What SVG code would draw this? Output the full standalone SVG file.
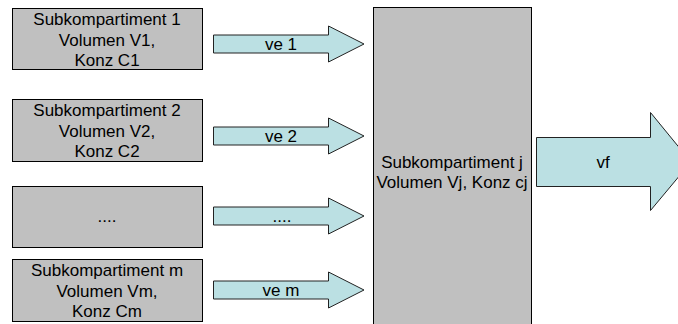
<svg xmlns="http://www.w3.org/2000/svg" width="678" height="324" viewBox="0 0 678 324">
  <style>
    .box { fill: #c0c0c0; stroke: #000; stroke-width: 1; }
    .flow { fill: #bbe0e3; stroke: #222; stroke-width: 1; stroke-linejoin: miter; }
    text { font-family: "Liberation Sans", Arial, sans-serif; font-size: 17px; fill: #000; text-anchor: middle; }
  </style>
  <defs>
    <!-- block arrow used for each inflow, drawn around its centre line y=0 -->
    <path id="inflow" d="M213.5,-9 H328.5 V-18 L364,0 L328.5,18 V9 H213.5 Z"/>
  </defs>

  <g id="sub1">
    <rect class="box" x="12.5" y="8.5" width="190" height="61"/>
    <text x="107" y="25">Subkompartiment 1</text>
    <text x="107" y="45.5">Volumen V1,</text>
    <text x="107" y="66">Konz C1</text>
  </g>

  <g id="sub2">
    <rect class="box" x="12.5" y="99.5" width="190" height="62"/>
    <text x="107" y="116">Subkompartiment 2</text>
    <text x="107" y="136.5">Volumen V2,</text>
    <text x="107" y="157">Konz C2</text>
  </g>

  <g id="sub-dots">
    <rect class="box" x="12.5" y="186.5" width="190" height="61"/>
    <text x="107" y="222">....</text>
  </g>

  <g id="subm">
    <rect class="box" x="12.5" y="259.5" width="190" height="62"/>
    <text x="107" y="276">Subkompartiment m</text>
    <text x="107" y="296.5">Volumen Vm,</text>
    <text x="107" y="317">Konz Cm</text>
  </g>

  <g id="subj">
    <rect class="box" x="373.5" y="7.5" width="158" height="330"/>
    <text x="452" y="168">Subkompartiment j</text>
    <text x="452" y="188">Volumen Vj, Konz cj</text>
  </g>

  <g id="connectors">
    <g id="ve1">
      <use href="#inflow" class="flow" transform="translate(0,44)"/>
      <text x="281" y="50">ve 1</text>
    </g>
    <g id="ve2">
      <use href="#inflow" class="flow" transform="translate(0,136)"/>
      <text x="281" y="142">ve 2</text>
    </g>
    <g id="ve-dots">
      <use href="#inflow" class="flow" transform="translate(0,216)"/>
      <text x="282" y="222">....</text>
    </g>
    <g id="vem">
      <use href="#inflow" class="flow" transform="translate(0,290)"/>
      <text x="281" y="296">ve m</text>
    </g>
    <g id="vf">
      <path class="flow" d="M536.5,137.5 H650.5 V112.5 L691,162 L650.5,210.5 V186.5 H536.5 Z"/>
      <text x="603" y="168">vf</text>
    </g>
  </g>
</svg>
